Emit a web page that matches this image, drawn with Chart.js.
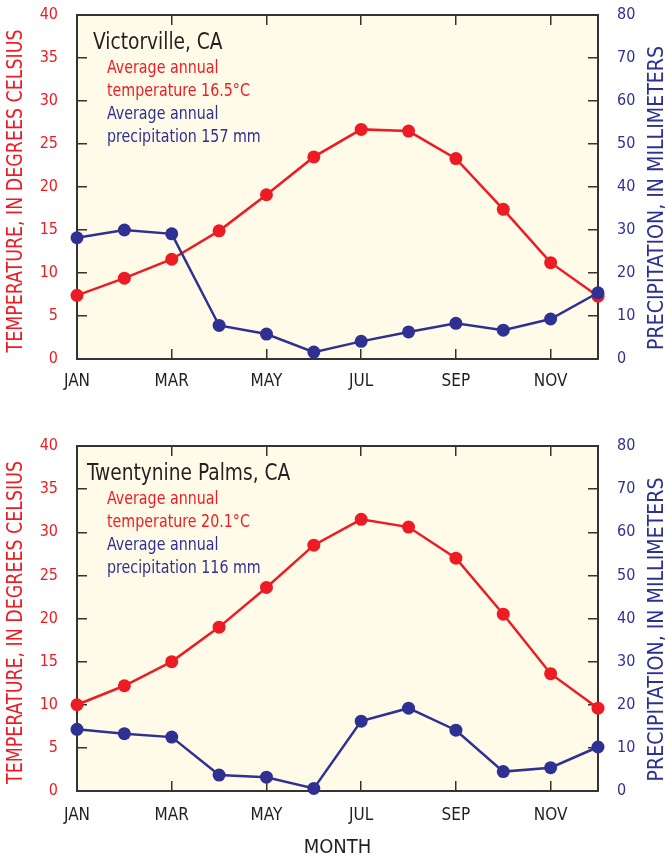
<!DOCTYPE html>
<html>
<head>
<meta charset="utf-8">
<script src="https://cdn.jsdelivr.net/npm/chart.js@4.4.1/dist/chart.umd.min.js"></script>
<style>
  body { margin: 0; background: #fff; width: 666px; height: 858px; position: relative; overflow: hidden; }
  .box { position: absolute; left: 0; width: 666px; }
</style>
</head>
<body>
<div class="box" style="top:0;height:400px"><canvas id="victorville"></canvas></div>
<div class="box" style="top:431px;height:427px"><canvas id="twentynine"></canvas></div>
<script>
// month labels, only every other one is printed
const months = ['JAN', 'FEB', 'MAR', 'APR', 'MAY', 'JUN', 'JUL', 'AUG', 'SEP', 'OCT', 'NOV', 'DEC'];

// Victorville, CA
const victorTemp = [7.4, 9.4, 11.6, 14.9, 19.1, 23.5, 26.7, 26.5, 23.3, 17.4, 11.2, 7.3];
const victorPrecip = [28.2, 30.0, 29.1, 7.8, 5.8, 1.6, 4.1, 6.3, 8.3, 6.7, 9.3, 15.4];

// Twentynine Palms, CA
const palmsTemp = [10.0, 12.2, 15.0, 19.0, 23.6, 28.5, 31.5, 30.6, 27.0, 20.5, 13.6, 9.6];
const palmsPrecip = [14.3, 13.3, 12.5, 3.7, 3.2, 0.6, 16.2, 19.2, 14.1, 4.5, 5.4, 10.2];

const RED = '#ED1C24';
const BLUE = '#2E3192';
const INK = '#231F20';
const FRAME = '#333333';
const PAPER = '#FFFBE8';
const FONT = '"Liberation Sans Narrow", "DejaVu Sans Condensed", "Roboto", sans-serif';

// squeeze text sideways so DejaVu looks like the narrow original face
function narrowText(ctx, text, x, y, font, squeeze) {
  ctx.save();
  ctx.font = font;
  ctx.translate(x, y);
  ctx.scale(squeeze, 1);
  ctx.fillText(text, 0, 0);
  ctx.restore();
}

function verticalTitle(ctx, text, x, y, color, length) {
  ctx.save();
  ctx.font = '21px ' + FONT;
  ctx.fillStyle = color;
  ctx.textAlign = 'center';
  ctx.textBaseline = 'middle';
  const w = ctx.measureText(text).width;
  ctx.translate(x, y);
  ctx.rotate(-Math.PI / 2);
  ctx.scale(length / w, 1);
  ctx.fillText(text, 0, 0);
  ctx.restore();
}

// pale yellow plot area, side titles and the station notes
const decorPlugin = {
  id: 'decor',
  beforeDraw(chart) {
    const { ctx, chartArea: a } = chart;
    ctx.save();
    ctx.fillStyle = PAPER;
    ctx.fillRect(a.left, a.top, a.right - a.left, a.bottom - a.top);
    ctx.restore();
  },
  afterDraw(chart, args, opts) {
    const { ctx, chartArea: a } = chart;
    const mid = (a.top + a.bottom) / 2;
    verticalTitle(ctx, 'TEMPERATURE, IN DEGREES CELSIUS', 17, mid + 4, RED, 323);
    verticalTitle(ctx, 'PRECIPITATION, IN MILLIMETERS', 658, mid + 11, BLUE, 304);

    ctx.save();
    ctx.textBaseline = 'middle';
    ctx.textAlign = 'left';
    ctx.fillStyle = INK;
    narrowText(ctx, opts.station, a.left + opts.dx, a.top + 28, '23px ' + FONT, 0.9);
    opts.lines.forEach((ln, i) => {
      ctx.fillStyle = ln.color;
      narrowText(ctx, ln.text, a.left + 30, a.top + 53 + i * 23, '18px ' + FONT, 0.88);
    });
    ctx.restore();
  }
};

function lineSet(label, data, color, axis) {
  return {
    label: label,
    data: data,
    yAxisID: axis,
    borderColor: color,
    backgroundColor: color,
    borderWidth: 2.5,
    pointRadius: 6.5,
    pointHoverRadius: 6.5,
    pointBorderWidth: 0,
    tension: 0,
    clip: false
  };
}

const monthTick = (c) => (c.index % 2 === 0 && c.index > 0 && c.index < 11) ? FRAME : 'rgba(0,0,0,0)';

function makeChart(id, station, dx, temp, precip, tempNote, precipNote, axisHeight, labelPad, showMonth) {
  return new Chart(document.getElementById(id), {
    type: 'line',
    data: {
      labels: months,
      datasets: [
        lineSet('Precipitation', precip, BLUE, 'yP'),
        lineSet('Temperature', temp, RED, 'yT')
      ]
    },
    options: {
      responsive: true,
      maintainAspectRatio: false,
      animation: false,
      layout: { padding: { top: 15, left: 0, right: 0, bottom: 0 } },
      plugins: {
        legend: { display: false },
        tooltip: { enabled: false },
        decor: {
          station: station,
          dx: dx,
          lines: [
            { text: 'Average annual', color: RED },
            { text: tempNote, color: RED },
            { text: 'Average annual', color: BLUE },
            { text: precipNote, color: BLUE }
          ]
        }
      },
      scales: {
        x: {
          position: 'bottom',
          offset: false,
          grid: { drawOnChartArea: false, tickLength: -10, color: monthTick, lineWidth: 1.5 },
          border: { color: FRAME, width: 2 },
          ticks: {
            autoSkip: false, maxRotation: 0, padding: labelPad + 2, color: INK,
            font: { family: FONT, size: 17 },
            callback: (v, i) => i % 2 === 0 ? months[i] : ''
          },
          title: {
            display: showMonth, text: 'MONTH', color: INK,
            font: { family: FONT, size: 20, lineHeight: 1 }, padding: { top: 0, bottom: 0 }
          },
          afterFit: (s) => { s.height = axisHeight; s.paddingLeft = 0; s.paddingRight = 0; }
        },
        xTop: {
          axis: 'x',
          position: 'top',
          offset: false,
          grid: { drawOnChartArea: false, tickLength: -10, color: monthTick, lineWidth: 1.5 },
          border: { color: FRAME, width: 2 },
          ticks: { display: false },
          afterFit: (s) => { s.height = 0; s.paddingLeft = 0; s.paddingRight = 0; }
        },
        yT: {
          position: 'left',
          min: 0,
          max: 40,
          grid: { drawOnChartArea: false, tickLength: -10, color: FRAME, lineWidth: 1.5 },
          border: { color: FRAME, width: 2 },
          ticks: { stepSize: 5, padding: 29, color: RED, font: { family: FONT, size: 16 } },
          afterFit: (s) => { s.width = 77; s.paddingTop = 0; s.paddingBottom = 0; }
        },
        yP: {
          position: 'right',
          min: 0,
          max: 80,
          grid: { drawOnChartArea: false, tickLength: -10, color: FRAME, lineWidth: 1.5 },
          border: { color: FRAME, width: 2 },
          ticks: {
            stepSize: 5, padding: 29, color: BLUE, font: { family: FONT, size: 16 },
            callback: (v) => v % 10 === 0 ? v : ''
          },
          afterFit: (s) => { s.width = 68; s.paddingTop = 0; s.paddingBottom = 0; }
        }
      }
    },
    plugins: [decorPlugin]
  });
}

makeChart('victorville', 'Victorville, CA', 16, victorTemp, victorPrecip,
  'temperature 16.5°C', 'precipitation 157 mm', 41, 20, false);
makeChart('twentynine', 'Twentynine Palms, CA', 10, palmsTemp, palmsPrecip,
  'temperature 20.1°C', 'precipitation 116 mm', 67, 22, true);
</script>
</body>
</html>
